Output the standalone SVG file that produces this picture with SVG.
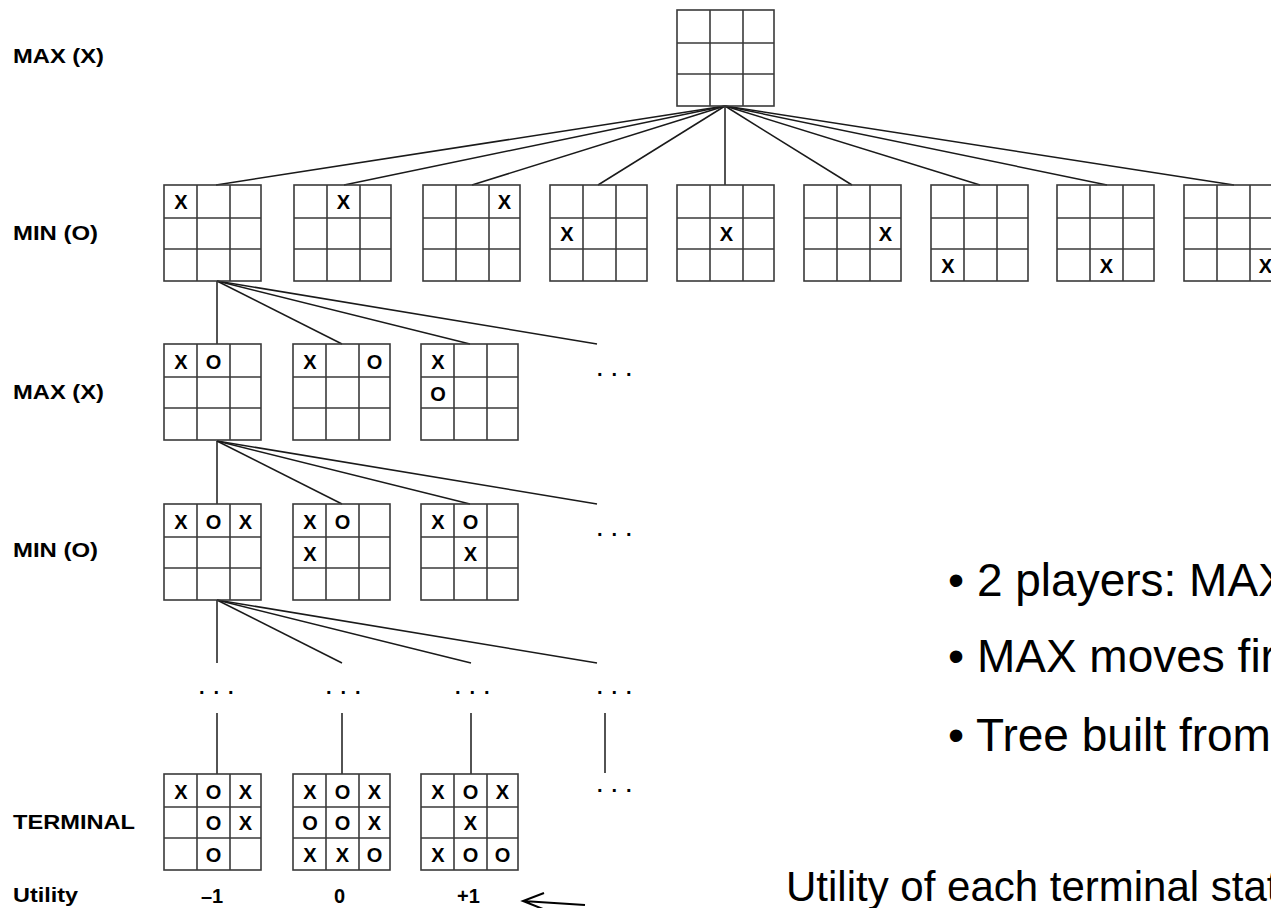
<svg xmlns="http://www.w3.org/2000/svg" width="1271" height="908" viewBox="0 0 1271 908">
<style>
.g{fill:none;stroke:#3a3a3a;stroke-width:1.6}
.c{fill:none;stroke:#1a1a1a;stroke-width:1.5}
.m{font-family:"Liberation Sans",Arial,sans-serif;font-weight:bold;font-size:20px;text-anchor:middle;fill:#000}
.lbl{font-family:"Liberation Sans",Arial,sans-serif;font-weight:bold;font-size:21px;fill:#000}
.u{font-family:"Liberation Sans",Arial,sans-serif;font-weight:bold;font-size:20px;text-anchor:middle;fill:#000}
.d{font-family:"Liberation Sans",Arial,sans-serif;font-weight:bold;font-size:20px;letter-spacing:9px;fill:#000}
.t{font-family:"Liberation Sans",Arial,sans-serif;font-size:46px;fill:#000}
.t2{font-family:"Liberation Sans",Arial,sans-serif;font-size:42px;fill:#000}
</style>
<defs>
<g id="grid">
<rect class="g" x="0" y="0" width="97" height="96"/>
<line class="g" x1="33" y1="0" x2="33" y2="96"/>
<line class="g" x1="66" y1="0" x2="66" y2="96"/>
<line class="g" x1="0" y1="33" x2="97" y2="33"/>
<line class="g" x1="0" y1="64" x2="97" y2="64"/>
</g>
</defs>
<rect width="1271" height="908" fill="#fff"/>

<g id="labels">
<text class="lbl" x="13" y="63" textLength="91" lengthAdjust="spacingAndGlyphs">MAX (X)</text>
<text class="lbl" x="13" y="240" textLength="85" lengthAdjust="spacingAndGlyphs">MIN (O)</text>
<text class="lbl" x="13" y="399" textLength="91" lengthAdjust="spacingAndGlyphs">MAX (X)</text>
<text class="lbl" x="13" y="557" textLength="85" lengthAdjust="spacingAndGlyphs">MIN (O)</text>
<text class="lbl" x="13" y="829" textLength="122" lengthAdjust="spacingAndGlyphs">TERMINAL</text>
<text class="lbl" x="13" y="902" textLength="65" lengthAdjust="spacingAndGlyphs">Utility</text>
</g>

<g id="connectors">
<line class="c" x1="725" y1="106" x2="216" y2="185"/>
<line class="c" x1="725" y1="106" x2="344" y2="185"/>
<line class="c" x1="725" y1="106" x2="472" y2="185"/>
<line class="c" x1="725" y1="106" x2="598" y2="185"/>
<line class="c" x1="725" y1="106" x2="725" y2="185"/>
<line class="c" x1="725" y1="106" x2="852" y2="185"/>
<line class="c" x1="725" y1="106" x2="980" y2="185"/>
<line class="c" x1="725" y1="106" x2="1107" y2="185"/>
<line class="c" x1="725" y1="106" x2="1234" y2="185"/>
<line class="c" x1="217" y1="281" x2="217" y2="344"/>
<line class="c" x1="217" y1="281" x2="342" y2="344"/>
<line class="c" x1="217" y1="281" x2="470" y2="344"/>
<line class="c" x1="217" y1="281" x2="597" y2="344"/>
<line class="c" x1="217" y1="441" x2="217" y2="504"/>
<line class="c" x1="217" y1="441" x2="342" y2="504"/>
<line class="c" x1="217" y1="441" x2="470" y2="504"/>
<line class="c" x1="217" y1="441" x2="597" y2="504"/>
<line class="c" x1="217" y1="600" x2="217" y2="663"/>
<line class="c" x1="217" y1="600" x2="342" y2="663"/>
<line class="c" x1="217" y1="600" x2="471" y2="663"/>
<line class="c" x1="217" y1="600" x2="597" y2="663"/>
<line class="c" x1="217" y1="713" x2="217" y2="774"/>
<line class="c" x1="342" y1="713" x2="342" y2="774"/>
<line class="c" x1="471" y1="713" x2="471" y2="774"/>
<line class="c" x1="605" y1="713" x2="605" y2="773"/>
<path d="M585 905 L523 901 M544 893 L523 901 L543 909" fill="none" stroke="#000" stroke-width="2"/>
</g>

<g id="dots">
<text class="d" x="597" y="376">...</text>
<text class="d" x="597" y="536">...</text>
<text class="d" x="199" y="694">...</text>
<text class="d" x="326" y="694">...</text>
<text class="d" x="455" y="694">...</text>
<text class="d" x="597" y="694">...</text>
<text class="d" x="597" y="792">...</text>
</g>

<g id="root"><use href="#grid" x="677" y="10"/></g>

<g id="min1"><use href="#grid" x="164" y="185"/><text class="m" x="181" y="209">X</text></g>
<g id="min2"><use href="#grid" x="294" y="185"/><text class="m" x="343.5" y="209">X</text></g>
<g id="min3"><use href="#grid" x="423" y="185"/><text class="m" x="504.5" y="209">X</text></g>
<g id="min4"><use href="#grid" x="550" y="185"/><text class="m" x="567" y="241">X</text></g>
<g id="min5"><use href="#grid" x="677" y="185"/><text class="m" x="726.5" y="241">X</text></g>
<g id="min6"><use href="#grid" x="804" y="185"/><text class="m" x="885.5" y="241">X</text></g>
<g id="min7"><use href="#grid" x="931" y="185"/><text class="m" x="948" y="273">X</text></g>
<g id="min8"><use href="#grid" x="1057" y="185"/><text class="m" x="1106.5" y="273">X</text></g>
<g id="min9"><use href="#grid" x="1184" y="185"/><text class="m" x="1265.5" y="273">X</text></g>

<g id="max1"><use href="#grid" x="164" y="344"/><text class="m" x="181" y="369">X</text><text class="m" x="213.5" y="369">O</text></g>
<g id="max2"><use href="#grid" x="293" y="344"/><text class="m" x="310" y="369">X</text><text class="m" x="374.5" y="369">O</text></g>
<g id="max3"><use href="#grid" x="421" y="344"/><text class="m" x="438" y="369">X</text><text class="m" x="438" y="401">O</text></g>

<g id="minb1"><use href="#grid" x="164" y="504"/><text class="m" x="181" y="529">X</text><text class="m" x="213.5" y="529">O</text><text class="m" x="245.5" y="529">X</text></g>
<g id="minb2"><use href="#grid" x="293" y="504"/><text class="m" x="310" y="529">X</text><text class="m" x="342.5" y="529">O</text><text class="m" x="310" y="561">X</text></g>
<g id="minb3"><use href="#grid" x="421" y="504"/><text class="m" x="438" y="529">X</text><text class="m" x="470.5" y="529">O</text><text class="m" x="470.5" y="561">X</text></g>

<g id="term1"><use href="#grid" x="164" y="774"/>
<text class="m" x="181" y="799">X</text><text class="m" x="213.5" y="799">O</text><text class="m" x="245.5" y="799">X</text>
<text class="m" x="213.5" y="830">O</text><text class="m" x="245.5" y="830">X</text>
<text class="m" x="213.5" y="862">O</text></g>
<g id="term2"><use href="#grid" x="293" y="774"/>
<text class="m" x="310" y="799">X</text><text class="m" x="342.5" y="799">O</text><text class="m" x="374.5" y="799">X</text>
<text class="m" x="310" y="830">O</text><text class="m" x="342.5" y="830">O</text><text class="m" x="374.5" y="830">X</text>
<text class="m" x="310" y="862">X</text><text class="m" x="342.5" y="862">X</text><text class="m" x="374.5" y="862">O</text></g>
<g id="term3"><use href="#grid" x="421" y="774"/>
<text class="m" x="438" y="799">X</text><text class="m" x="470.5" y="799">O</text><text class="m" x="502.5" y="799">X</text>
<text class="m" x="470.5" y="830">X</text>
<text class="m" x="438" y="862">X</text><text class="m" x="470.5" y="862">O</text><text class="m" x="502.5" y="862">O</text></g>

<g id="utility">
<text class="u" x="212" y="903">–1</text>
<text class="u" x="339.5" y="903">0</text>
<text class="u" x="468.5" y="903">+1</text>
</g>

<g id="notes">
<text class="t" x="948" y="596">• 2 players: MAX</text>
<text class="t" x="948" y="672">• MAX moves fir</text>
<text class="t" x="948" y="751">• Tree built from</text>
<text class="t2" x="786" y="901">Utility of each terminal stat</text>
</g>
</svg>
